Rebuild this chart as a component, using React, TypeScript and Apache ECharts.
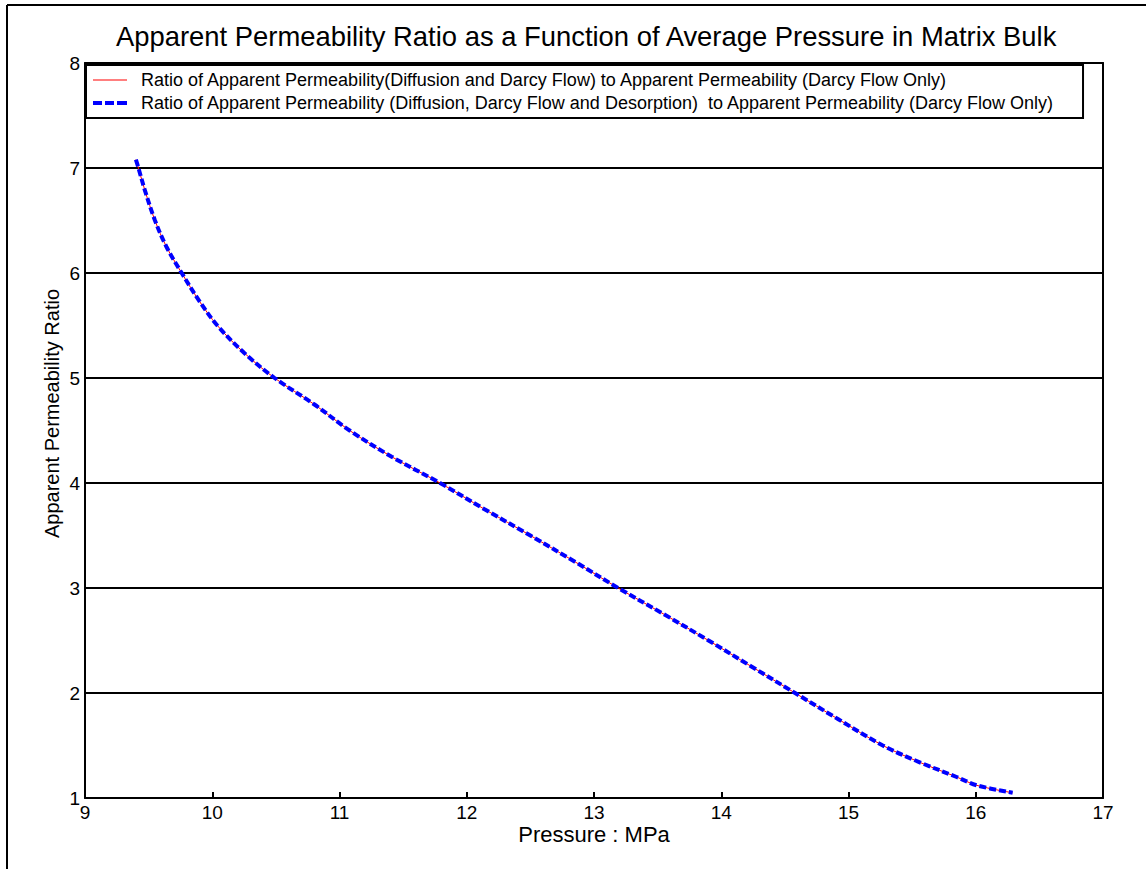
import React, { useEffect, useRef } from "react";
import * as echarts from "echarts";

const pressure = [9.40, 9.42, 9.47, 9.55, 9.64, 9.76, 9.90, 10.04, 10.25, 10.49, 10.80, 11.08, 11.41, 11.79, 12.14, 12.50, 12.85, 13.19, 13.55, 13.90, 14.24, 14.58, 14.92, 15.27, 15.56, 15.85, 16.01, 16.29];
const ratioDiffusionDarcy = [7.08, 7.00, 6.79, 6.50, 6.25, 6.00, 5.73, 5.50, 5.24, 5.00, 4.75, 4.50, 4.25, 4.00, 3.75, 3.50, 3.25, 3.00, 2.75, 2.50, 2.25, 2.00, 1.75, 1.50, 1.34, 1.20, 1.12, 1.05];
const ratioDiffusionDarcyDesorption = [7.08, 7.00, 6.79, 6.50, 6.25, 6.00, 5.73, 5.50, 5.24, 5.00, 4.75, 4.50, 4.25, 4.00, 3.75, 3.50, 3.25, 3.00, 2.75, 2.50, 2.25, 2.00, 1.75, 1.50, 1.34, 1.20, 1.12, 1.05];

const seriesNames = [
  "Ratio of Apparent Permeability(Diffusion and Darcy Flow) to Apparent Permeability (Darcy Flow Only)",
  "Ratio of Apparent Permeability (Diffusion, Darcy Flow and Desorption)  to Apparent Permeability (Darcy Flow Only)",
];
const titleText = "Apparent Permeability Ratio as a Function of Average Pressure in Matrix Bulk";
const xAxisName = "Pressure : MPa";
const yAxisName = "Apparent Permeability Ratio";

const FONT = "'Liberation Sans', Arial, sans-serif";

export default function App() {
  const ref = useRef<HTMLDivElement>(null);
  useEffect(() => {
    if (!ref.current) return;
    const chart = echarts.init(ref.current, undefined, { renderer: "svg" });
    const pts1 = pressure.map((p, i) => [p, ratioDiffusionDarcy[i]]);
    const pts2 = pressure.map((p, i) => [p, ratioDiffusionDarcyDesorption[i]]);
    const axisLine = { show: true, lineStyle: { color: "#000", width: 2 } };
    chart.setOption({
      animation: false,
      backgroundColor: "#fff",
      textStyle: { fontFamily: FONT, color: "#000" },
      title: {
        text: titleText,
        left: 116,
        top: 23,
        padding: 0,
        textStyle: { fontFamily: FONT, fontSize: 27.4, fontWeight: "normal", color: "#000" },
      },
      grid: { left: 85, right: 43, top: 63, bottom: 71, containLabel: false },
      legend: {
        orient: "vertical",
        left: 86,
        top: 65,
        padding: [6, 28, 6, 7],
        itemGap: 5,
        itemWidth: 34,
        itemHeight: 12,
        backgroundColor: "#fff",
        borderColor: "#000",
        borderWidth: 2,
        borderRadius: 0,
        itemStyle: { borderWidth: 0 },
        lineStyle: { width: 0 },
        textStyle: { fontFamily: FONT, fontSize: 18, color: "#000", padding: [0, 0, 0, 9] },
        data: [
          { name: seriesNames[0], icon: "path://M0,0h34v1h-34z" },
          { name: seriesNames[1], icon: "path://M0,0h9v4h-9z M12,0h9v4h-9z M24,0h10v4h-10z" },
        ],
      },
      xAxis: [
        {
          type: "value",
          min: 9,
          max: 17,
          interval: 1,
          position: "bottom",
          name: xAxisName,
          nameLocation: "middle",
          nameGap: 25,
          nameMoveOverlap: false,
          nameTextStyle: { fontFamily: FONT, fontSize: 22, color: "#000", verticalAlign: "top" },
          axisLine,
          axisTick: { show: true, inside: true, length: 6, lineStyle: { color: "#000", width: 2 } },
          axisLabel: { fontFamily: FONT, fontSize: 19, color: "#000", margin: 5 },
          splitLine: { show: false },
        },
        {
          type: "value",
          min: 9,
          max: 17,
          interval: 1,
          position: "top",
          axisLine,
          axisTick: { show: false },
          axisLabel: { show: false },
          splitLine: { show: false },
        },
      ],
      yAxis: [
        {
          type: "value",
          min: 1,
          max: 8,
          interval: 1,
          position: "left",
          axisLine,
          axisTick: { show: true, inside: true, length: 4, lineStyle: { color: "#000", width: 1 } },
          axisLabel: { fontFamily: FONT, fontSize: 19, color: "#000", margin: 5 },
          splitLine: { show: true, lineStyle: { color: "#000", width: 2 } },
        },
        {
          type: "value",
          min: 1,
          max: 8,
          interval: 1,
          position: "right",
          axisLine,
          axisTick: { show: true, inside: true, length: 4, lineStyle: { color: "#000", width: 1 } },
          axisLabel: { show: false },
          splitLine: { show: false },
        },
      ],
      graphic: [
        {
          type: "text",
          left: 42,
          top: 289,
          rotation: Math.PI / 2,
          style: {
            text: yAxisName,
            fontFamily: FONT,
            fontSize: 20,
            fill: "#000",
          },
          z: 10,
        },
        {
          type: "line",
          shape: { x1: 7, y1: 5, x2: 1146, y2: 5 },
          style: { stroke: "#000", lineWidth: 2 },
        },
        {
          type: "line",
          shape: { x1: 7, y1: 5, x2: 7, y2: 869 },
          style: { stroke: "#000", lineWidth: 2 },
        },
      ],
      series: [
        {
          name: seriesNames[0],
          type: "line",
          data: pts1,
          smooth: 0.35,
          symbol: "none",
          lineStyle: { color: "#ff0000", width: 1 },
          itemStyle: { color: "#ff0000" },
          z: 2,
        },
        {
          name: seriesNames[1],
          type: "line",
          data: pts2,
          smooth: 0.35,
          symbol: "none",
          lineStyle: { color: "#0000ff", width: 4, type: [7, 3] },
          itemStyle: { color: "#0000ff" },
          z: 3,
        },
      ],
    });
    return () => chart.dispose();
  }, []);
  return (
    <div
      ref={ref}
      style={{ position: "fixed", left: 0, top: 0, width: 1146, height: 869 }}
    />
  );
}
